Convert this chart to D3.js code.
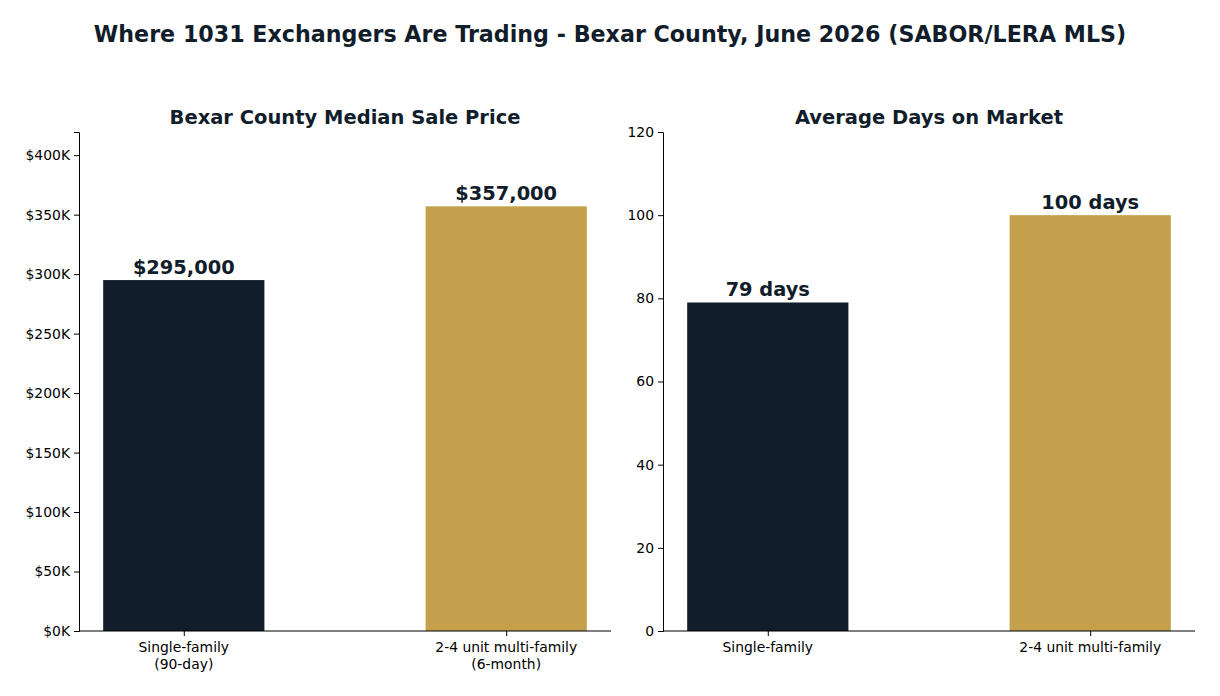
<!DOCTYPE html>
<html>
<head>
    <script src="https://d3js.org/d3.v7.min.js"></script>
</head>
<style>
    body { margin: 0; background: white; }
    svg { font-family: "DejaVu Sans", sans-serif; }
    .axis path, .axis line { stroke: black; stroke-width: 1px; }
</style>
<body>
    <svg id="chart" width="1220" height="696"></svg>

    <script>
        // data
        const priceCats = ["Single-family\n(90-day)", "2-4 unit multi-family\n(6-month)"];
        const priceVals = [295000, 357000];
        const priceLabels = ["$295,000", "$357,000"];
        const priceTicks = [0, 50000, 100000, 150000, 200000, 250000, 300000, 350000, 400000];

        const domCats = ["Single-family", "2-4 unit multi-family"];
        const domVals = [79, 100];
        const domLabels = ["79 days", "100 days"];
        const domTicks = [0, 20, 40, 60, 80, 100, 120];

        const colors = ["#111d2b", "#c4a04c"];
        const navy = "#111d2b";

        const svg = d3.select("svg#chart");

        svg.append("text")
           .attr("x", 610).attr("y", 42)
           .attr("text-anchor", "middle")
           .attr("font-size", "22.2px").attr("font-weight", "bold")
           .attr("fill", navy)
           .text("Where 1031 Exchangers Are Trading - Bexar County, June 2026 (SABOR/LERA MLS)");

        function drawPanel(left, title, cats, vals, labels, ticks, ymax, tickFmt) {
            const w = 532, h = 499, top = 132;
            const g = svg.append("g").attr("transform", "translate(" + left + "," + top + ")");

            // matplotlib style: centers 0..1, bar width 0.5, 5% margins
            const x = d3.scaleLinear().domain([-0.325, 1.325]).range([0, w]);
            const y = d3.scaleLinear().domain([0, ymax]).range([h, 0]);
            const bw = x(0.5) - x(0);

            g.selectAll("rect.bar").data(vals)
             .join("rect")
             .attr("class", "bar")
             .attr("x", (d, i) => x(i) - bw / 2)
             .attr("width", bw)
             .attr("y", d => y(d))
             .attr("height", d => h - y(d))
             .attr("fill", (d, i) => colors[i]);

            g.selectAll("text.val").data(vals)
             .join("text")
             .attr("class", "val")
             .attr("x", (d, i) => x(i))
             .attr("y", d => y(d) - 6)
             .attr("text-anchor", "middle")
             .attr("font-size", "19.4px").attr("font-weight", "bold")
             .attr("fill", navy)
             .text((d, i) => labels[i]);

            const yAxis = d3.axisLeft(y).tickValues(ticks).tickFormat(tickFmt).tickSizeOuter(0).tickSize(5).tickPadding(4);
            g.append("g").attr("class", "axis").call(yAxis)
             .attr("font-size", "13.9px").attr("font-family", "DejaVu Sans");

            const xAxis = d3.axisBottom(x).tickValues([0, 1]).tickFormat("").tickSizeOuter(0).tickSize(5);
            const xg = g.append("g").attr("class", "axis").attr("transform", "translate(0," + h + ")").call(xAxis);
            xg.select(".domain").attr("d", "M0,0H" + w);

            cats.forEach((c, i) => {
                const t = g.append("text")
                    .attr("x", x(i)).attr("y", h + 21)
                    .attr("text-anchor", "middle")
                    .attr("font-size", "13.9px").attr("fill", "black");
                c.split("\n").forEach((line, j) => {
                    t.append("tspan").attr("x", x(i)).attr("dy", j === 0 ? 0 : 17).text(line);
                });
            });

            g.append("text")
             .attr("x", w / 2).attr("y", -8)
             .attr("text-anchor", "middle")
             .attr("font-size", "19.5px").attr("font-weight", "bold")
             .attr("fill", navy)
             .text(title);
        }

        drawPanel(79, "Bexar County Median Sale Price", priceCats, priceVals, priceLabels, priceTicks,
                  357000 * 1.175, d => "$" + (d / 1000) + "K");
        drawPanel(663, "Average Days on Market", domCats, domVals, domLabels, domTicks,
                  120, d => d);
    </script>
</body>
</html>
